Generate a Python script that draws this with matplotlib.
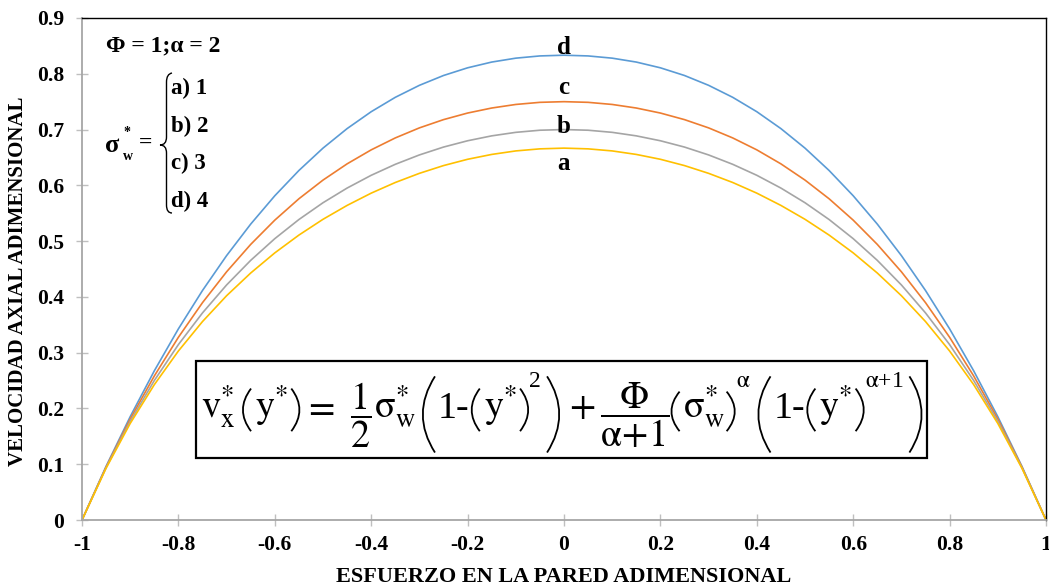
import numpy as np
import matplotlib
matplotlib.use("Agg")
import matplotlib.pyplot as plt
from matplotlib.path import Path
from matplotlib.patches import PathPatch, Rectangle

# values
y_pos = [-1.0, -0.95, -0.9, -0.85, -0.8, -0.75, -0.7, -0.65, -0.6, -0.55, -0.5,
         -0.45, -0.4, -0.35, -0.3, -0.25, -0.2, -0.15, -0.1, -0.05, 0.0,
         0.05, 0.1, 0.15, 0.2, 0.25, 0.3, 0.35, 0.4, 0.45, 0.5,
         0.55, 0.6, 0.65, 0.7, 0.75, 0.8, 0.85, 0.9, 0.95, 1.0]

vel_a = [0.0, 0.0929, 0.1731, 0.2426, 0.3030, 0.3558, 0.4021, 0.4428, 0.4789, 0.5108, 0.5391,
         0.5640, 0.5860, 0.6051, 0.6215, 0.6354, 0.6467, 0.6554, 0.6617, 0.6654, 0.6667,
         0.6654, 0.6617, 0.6554, 0.6467, 0.6354, 0.6215, 0.6051, 0.5860, 0.5640, 0.5391,
         0.5108, 0.4789, 0.4428, 0.4021, 0.3558, 0.3030, 0.2426, 0.1731, 0.0929, 0.0]
vel_b = [0.0, 0.0940, 0.1769, 0.2500, 0.3145, 0.3713, 0.4214, 0.4655, 0.5044, 0.5387, 0.5688,
         0.5951, 0.6180, 0.6377, 0.6545, 0.6686, 0.6799, 0.6887, 0.6950, 0.6988, 0.7000,
         0.6988, 0.6950, 0.6887, 0.6799, 0.6686, 0.6545, 0.6377, 0.6180, 0.5951, 0.5688,
         0.5387, 0.5044, 0.4655, 0.4214, 0.3713, 0.3145, 0.2500, 0.1769, 0.0940, 0.0]
vel_c = [0.0, 0.0951, 0.1810, 0.2582, 0.3276, 0.3897, 0.4450, 0.4941, 0.5376, 0.5759, 0.6094,
         0.6385, 0.6636, 0.6850, 0.7030, 0.7178, 0.7296, 0.7386, 0.7450, 0.7488, 0.7500,
         0.7488, 0.7450, 0.7386, 0.7296, 0.7178, 0.7030, 0.6850, 0.6636, 0.6385, 0.6094,
         0.5759, 0.5376, 0.4941, 0.4450, 0.3897, 0.3276, 0.2582, 0.1810, 0.0951, 0.0]
vel_d = [0.0, 0.0963, 0.1853, 0.2674, 0.3427, 0.4115, 0.4740, 0.5305, 0.5813, 0.6266, 0.6667,
         0.7017, 0.7320, 0.7578, 0.7793, 0.7969, 0.8107, 0.8210, 0.8280, 0.8320, 0.8333,
         0.8320, 0.8280, 0.8210, 0.8107, 0.7969, 0.7793, 0.7578, 0.7320, 0.7017, 0.6667,
         0.6266, 0.5813, 0.5305, 0.4740, 0.4115, 0.3427, 0.2674, 0.1853, 0.0963, 0.0]

x_ticks = [-1, -0.8, -0.6, -0.4, -0.2, 0, 0.2, 0.4, 0.6, 0.8, 1]
x_labels = ['-1', '-0.8', '-0.6', '-0.4', '-0.2', '0', '0.2', '0.4', '0.6', '0.8', '1']
y_ticks = [0, 0.1, 0.2, 0.3, 0.4, 0.5, 0.6, 0.7, 0.8, 0.9]
y_labels = ['0', '0.1', '0.2', '0.3', '0.4', '0.5', '0.6', '0.7', '0.8', '0.9']

plt.rcParams['font.family'] = ['Liberation Serif', 'DejaVu Serif']
plt.rcParams['mathtext.fontset'] = 'stix'

W, H = 1049, 588
fig = plt.figure(figsize=(W / 100, H / 100), dpi=100)
ax = fig.add_axes([82 / W, 1 - 520 / H, (1046 - 82) / W, (520 - 18) / H])

ax.plot(y_pos, vel_d, color='#5B9BD5', lw=1.2)
ax.plot(y_pos, vel_c, color='#ED7D31', lw=1.2)
ax.plot(y_pos, vel_b, color='#A5A5A5', lw=1.2)
ax.plot(y_pos, vel_a, color='#FFC000', lw=1.2)

ax.set_xlim(-1, 1)
ax.set_ylim(0, 0.9)
ax.set_xticks(x_ticks)
ax.set_xticklabels(x_labels, fontweight='bold')
ax.set_yticks(y_ticks)
ax.set_yticklabels(y_labels, fontweight='bold')
ax.tick_params(axis='both', direction='inout', length=8, width=1, color='#BFBFBF',
               labelsize=15.5)
ax.tick_params(axis='x', pad=7)
ax.tick_params(axis='y', pad=9)

for side in ['left', 'bottom']:
    ax.spines[side].set_color('#A6A6A6')
    ax.spines[side].set_linewidth(1.3)
for side in ['top', 'right']:
    ax.spines[side].set_color('black')
    ax.spines[side].set_linewidth(1.0)

fig.text(564 / W, 1 - 577 / H, 'ESFUERZO EN LA PARED ADIMENSIONAL',
         ha='center', va='center', fontsize=16, fontweight='bold')
fig.text(18 / W, 1 - 281 / H, 'VELOCIDAD AXIAL ADIMENSIONAL', rotation=90,
         ha='center', va='center', fontsize=15, fontweight='bold')

# curve labels
for lab, yv in [('d', 0.848), ('c', 0.776), ('b', 0.706), ('a', 0.640)]:
    ax.text(0, yv, lab, ha='center', va='center', fontsize=18, fontweight='bold')


def px(x, y):
    return x / W, 1 - y / H


fig.text(*px(106, 46), 'Φ = 1;α = 2', ha='left', va='center', fontsize=17, fontweight='bold')
fig.text(*px(105, 145), 'σ', ha='left', va='center', fontsize=19, fontweight='bold')
fig.text(*px(123, 133), '*', ha='left', va='center', fontsize=10, fontweight='bold')
fig.text(*px(123, 156), 'w', ha='left', va='center', fontsize=10, fontweight='bold')
fig.text(*px(139, 143), '=', ha='left', va='center', fontsize=17, fontweight='bold')
for lab, yy in [('a) 1', 88), ('b) 2', 126), ('c) 3', 163), ('d) 4', 201)]:
    fig.text(*px(171, yy), lab, ha='left', va='center', fontsize=16.5, fontweight='bold')

# brace
bx0, bx1, bxm = 172, 166.5, 160
verts = [px(bx0, 73), px(bx1, 74), px(bx1, 82),
         px(bx1, 137),
         px(bx1, 145), px(bxm, 145),
         px(bx1, 145), px(bx1, 153),
         px(bx1, 205),
         px(bx1, 213), px(bx0, 213)]
codes = [Path.MOVETO, Path.CURVE3, Path.CURVE3, Path.LINETO,
         Path.CURVE3, Path.CURVE3, Path.CURVE3, Path.CURVE3,
         Path.LINETO, Path.CURVE3, Path.CURVE3]
fig.add_artist(PathPatch(Path(verts, codes), transform=fig.transFigure,
                         fc='none', ec='black', lw=1.0))

# equation box
box = Rectangle(px(196, 458), 731 / W, 97 / H, transform=fig.transFigure,
                fc='white', ec='black', lw=1.6, zorder=2)
fig.add_artist(box)

# equation, laid out piece by piece so the brackets can be tall
base = 418
sig = r'$\mathrm{\sigma}_{\mathrm{w}}^{*}$'
ystar = r'$\mathrm{y}^{*}$'
eq_items = [  # kind, content, gap after (px)
    ('m', r'$\mathrm{v}_{\mathrm{x}}^{*}$', 7),
    ('(', 's', 4), ('m', ystar, 3), (')', 's', 4),
    ('m', r'$=$', 14),
    ('f', r'$\dfrac{1}{2}$', 3),
    ('m', sig, 7),
    ('(', 'b', 3), ('m', '1-', 2),
    ('(', 's', 4), ('m', ystar, 3), (')', 's', 1), ('u', '2', 6),
    (')', 'b', 10),
    ('m', r'$+$', 4),
    ('f', r'$\dfrac{\mathrm{\Phi}}{\mathrm{\alpha}\!+\!1}$', 2),
    ('(', 'm', 3), ('m', sig, 2), (')', 'm', 1), ('u', r'$\mathrm{\alpha}$', 8),
    ('(', 'b', 3), ('m', '1-', 2),
    ('(', 's', 4), ('m', ystar, 3), (')', 's', 1), ('u', r'$\mathrm{\alpha}$+1', 6),
    (')', 'b', 0),
]
paren_w = {'s': 8, 'm': 8, 'b': 12}
paren_h = {'s': (-29, 13), 'm': (-26, 13), 'b': (-41, 34)}

renderer = fig.canvas.get_renderer()


def build(fs):
    k = fs / 27.0
    arts = []
    x = 0.0
    for kind, c, gap in eq_items:
        if kind in '()':
            arts.append((kind, c, x, k))
            x += paren_w[c] * k
        else:
            size = fs * 0.62 if kind == 'u' else fs
            yb = base - 31 * k if kind == 'u' else (base - 3 if kind == 'f' else base)
            va = 'center' if kind == 'f' else 'baseline'
            t = fig.text(*px(0, yb), c, ha='left', va=va, fontsize=size, zorder=5)
            w = t.get_window_extent(renderer).width
            arts.append(('t', t, x, w))
            x += w
        x += gap * k
    return arts, x


target = 721.0
fs_eq = 27.0
arts, total = build(fs_eq)
for a in arts:
    if a[0] == 't':
        a[1].remove()
fs_eq = fs_eq * target / total
arts, total = build(fs_eq)
x0 = 561.5 - total / 2
for a in arts:
    if a[0] == 't':
        a[1].set_x((x0 + a[2]) / W)
    else:
        kind, c, x, k = a
        xl = x0 + x
        xr = xl + paren_w[c] * k
        top = base + paren_h[c][0] * k
        bot = base + paren_h[c][1] * k
        mid = (top + bot) / 2
        if kind == '(':
            v = [px(xr, top), px(2 * xl - xr, mid), px(xr, bot)]
        else:
            v = [px(xl, top), px(2 * xr - xl, mid), px(xl, bot)]
        fig.add_artist(PathPatch(Path(v, [Path.MOVETO, Path.CURVE3, Path.CURVE3]),
                                 transform=fig.transFigure, fc='none', ec='black',
                                 lw=1.3, zorder=4))

fig.savefig('out.png', dpi=100)
